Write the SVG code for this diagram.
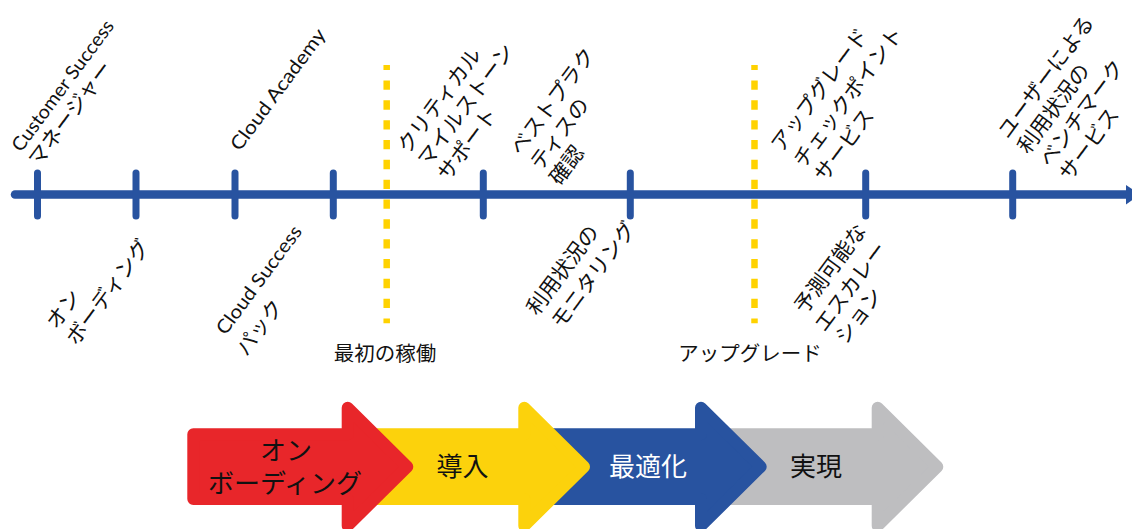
<svg xmlns="http://www.w3.org/2000/svg" width="1132" height="529" viewBox="0 0 1132 529">
<style>
.jp{font-family:"Noto Sans CJK JP",sans-serif;font-size:21px;fill:#111}
.lat{font-family:"Lato","Noto Sans","Noto Sans CJK JP",sans-serif;font-size:19px;fill:#111}
.tick{stroke:#2853A0;stroke-width:7;stroke-linecap:round}
.dash{stroke:#FFD200;stroke-width:6.5;stroke-dasharray:9.3 10.53;stroke-dashoffset:4.3}
.arr{stroke-width:12;stroke-linejoin:round}
.big{font-family:"Noto Sans CJK JP",sans-serif;font-size:26px;text-anchor:middle}
</style>
<rect width="1132" height="529" fill="#fff"/>
<g id="milestones">
  <line class="dash" x1="386.7" y1="65" x2="386.7" y2="323.3"/>
  <line class="dash" x1="754.5" y1="65" x2="754.5" y2="323.3"/>
</g>
<g id="connectors">
  <line x1="15" y1="194.5" x2="1127" y2="194.5" stroke="#2853A0" stroke-width="8.5" stroke-linecap="round"/>
  <polygon points="1126,185 1126,204.5 1140,194.5" fill="#2853A0"/>
  <line class="tick" x1="37.5" y1="173" x2="37.5" y2="216"/>
  <line class="tick" x1="136" y1="173" x2="136" y2="216"/>
  <line class="tick" x1="235" y1="173" x2="235" y2="216"/>
  <line class="tick" x1="333.3" y1="173" x2="333.3" y2="216"/>
  <line class="tick" x1="483.3" y1="173" x2="483.3" y2="216"/>
  <line class="tick" x1="630.3" y1="173" x2="630.3" y2="216"/>
  <line class="tick" x1="865.7" y1="173" x2="865.7" y2="216"/>
  <line class="tick" x1="1012.7" y1="173" x2="1012.7" y2="216"/>
</g>
<g id="label-csm">
  <text class="lat" transform="translate(21,153) rotate(-53.5)" textLength="158" lengthAdjust="spacingAndGlyphs">Customer Success</text>
  <text class="jp" transform="translate(39,168) rotate(-53.5)">マネージャー</text>
</g>
<g id="label-academy">
  <text class="lat" transform="translate(239.8,152.1) rotate(-53.5)" textLength="146" lengthAdjust="spacingAndGlyphs">Cloud Academy</text>
</g>
<g id="label-critical">
  <text class="jp" transform="translate(408.3,154.8) rotate(-53.5)">クリティカル</text>
  <text class="jp" transform="translate(428.3,168.2) rotate(-53.5)">マイルストーン</text>
  <text class="jp" transform="translate(448.3,182.2) rotate(-53.5)">サポート</text>
</g>
<g id="label-best">
  <text class="jp" transform="translate(520.7,156.5) rotate(-53.5)">ベストプラク</text>
  <text class="jp" transform="translate(540.7,171.5) rotate(-53.5)">ティスの</text>
  <text class="jp" transform="translate(560,186.5) rotate(-53.5)">確認</text>
</g>
<g id="label-upgrade-check">
  <text class="jp" transform="translate(781.7,153.2) rotate(-53.5)">アップグレード</text>
  <text class="jp" transform="translate(804,168.9) rotate(-53.5)">チェックポイント</text>
  <text class="jp" transform="translate(825,183.2) rotate(-53.5)">サービス</text>
</g>
<g id="label-benchmark">
  <text class="jp" transform="translate(1008.3,139.9) rotate(-53.5)">ユーザーによる</text>
  <text class="jp" transform="translate(1028.3,154.9) rotate(-53.5)">利用状況の</text>
  <text class="jp" transform="translate(1050,168.2) rotate(-53.5)">ベンチマーク</text>
  <text class="jp" transform="translate(1070,182.2) rotate(-53.5)">サービス</text>
</g>
<g id="label-onboarding">
  <text class="jp" transform="translate(56.7,330.5) rotate(-53.5)">オン</text>
  <text class="jp" transform="translate(76.7,346.5) rotate(-53.5)">ボーディング</text>
</g>
<g id="label-pack">
  <text class="lat" transform="translate(225.5,336.1) rotate(-53.5)" textLength="130" lengthAdjust="spacingAndGlyphs">Cloud Success</text>
  <text class="jp" transform="translate(246.7,357.2) rotate(-53.5)">パック</text>
</g>
<g id="label-monitoring">
  <text class="jp" transform="translate(537.3,316.5) rotate(-53.5)">利用状況の</text>
  <text class="jp" transform="translate(561.7,329.9) rotate(-53.5)">モニタリング</text>
</g>
<g id="label-escalation">
  <text class="jp" transform="translate(805,314.9) rotate(-53.5)">予測可能な</text>
  <text class="jp" transform="translate(825,333.2) rotate(-53.5)">エスカレー</text>
  <text class="jp" transform="translate(845.7,345.5) rotate(-53.5)">ション</text>
</g>
<g id="label-first-run">
  <text class="jp" x="385" y="361" text-anchor="middle" style="font-size:20.5px">最初の稼働</text>
</g>
<g id="label-upgrade">
  <text class="jp" x="750" y="361" text-anchor="middle" style="font-size:20.5px">アップグレード</text>
</g>
<g id="arrow-realize">
  <path class="arr" fill="#BEBEC0" stroke="#BEBEC0" d="M709,434.3 L877.7,434.3 L877.7,407.7 L937.3,466.7 L877.7,525.7 L877.7,499 L709,499 Z"/>
  <text class="big" x="816" y="476" fill="#111">実現</text>
</g>
<g id="arrow-optimize">
  <path class="arr" fill="#2853A0" stroke="#2853A0" d="M532,434.3 L701,434.3 L701,407.7 L760.7,466.7 L701,525.7 L701,499 L532,499 Z"/>
  <text class="big" x="648" y="476" fill="#fff">最適化</text>
</g>
<g id="arrow-adopt">
  <path class="arr" fill="#FCD20C" stroke="#FCD20C" d="M355,434.3 L524.3,434.3 L524.3,407.7 L584,466.7 L524.3,525.7 L524.3,499 L355,499 Z"/>
  <text class="big" x="462.5" y="476" fill="#111">導入</text>
</g>
<g id="arrow-onboarding">
  <path class="arr" fill="#E8262A" stroke="#E8262A" d="M193.3,434.3 L347.7,434.3 L347.7,407.7 L407.3,466.7 L347.7,525.7 L347.7,499 L193.3,499 Z"/>
  <text class="big" fill="#111"><tspan x="286" y="460">オン</tspan><tspan x="285" y="493">ボーディング</tspan></text>
</g>
</svg>
